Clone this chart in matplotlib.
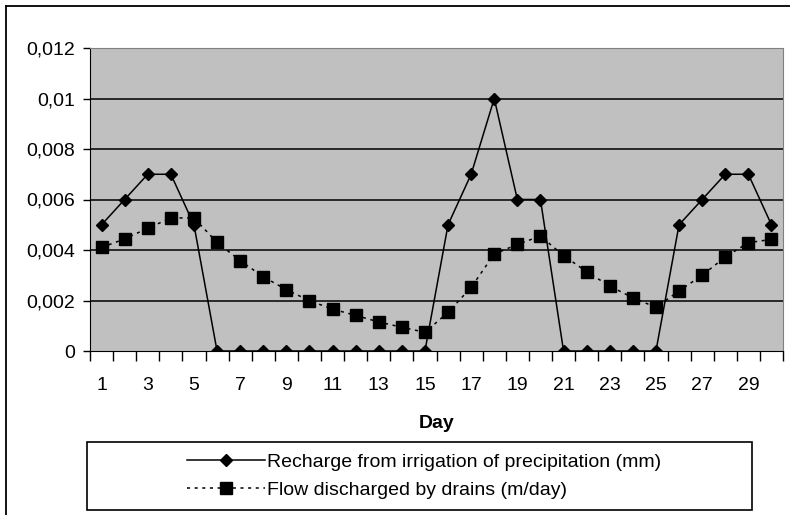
import matplotlib.pyplot as plt
from matplotlib.lines import Line2D
from matplotlib.patches import Rectangle
import numpy as np

plt.rcParams['font.family'] = ['Liberation Sans', 'DejaVu Sans']

days = list(range(1, 31))
recharge = [0.005, 0.006, 0.007, 0.007, 0.005, 0, 0, 0, 0, 0,
            0, 0, 0, 0, 0, 0.005, 0.007, 0.010, 0.006, 0.006,
            0, 0, 0, 0, 0, 0.005, 0.006, 0.007, 0.007, 0.005]
flow = [0.0041, 0.00444, 0.00486, 0.00527, 0.00527, 0.0043, 0.00358, 0.00294, 0.00243, 0.00199,
        0.00166, 0.00141, 0.00115, 0.00094, 0.00074, 0.00153, 0.00252, 0.00384, 0.00422, 0.00455,
        0.00378, 0.00314, 0.00257, 0.00211, 0.00173, 0.00238, 0.003, 0.00372, 0.00429, 0.00442]
yticks = [0, 0.002, 0.004, 0.006, 0.008, 0.01, 0.012]
ytick_labels = ['0', '0,002', '0,004', '0,006', '0,008', '0,01', '0,012']
label_recharge = 'Recharge from irrigation of precipitation (mm)'
label_flow = 'Flow discharged by drains (m/day)'

W, H = 790, 515
fs = 14
fig = plt.figure(figsize=(W / 100, H / 100), dpi=100)
ax = fig.add_axes([90 / W, (H - 351) / H, 693 / W, 303 / H])
ax.set_facecolor('#c0c0c0')

# outer chart border
fig.add_artist(Line2D([6 / W, 6 / W], [0, 1 - 6 / H], color='black', lw=1.3))
fig.add_artist(Line2D([6 / W, 1], [1 - 6 / H, 1 - 6 / H], color='black', lw=1.3))

for y in yticks[1:]:
    ax.axhline(y, color='black', lw=1.1, zorder=1)

l1, = ax.plot(days, recharge, color='black', lw=1.1, marker='D', markersize=6.5,
              label=label_recharge, zorder=3)
l2, = ax.plot(days, flow, color='black', lw=1.1, linestyle=(0, (2, 3)), marker='s',
              markersize=8, label=label_flow, zorder=3)

ax.set_xlim(0.5, 30.5)
ax.set_ylim(0, 0.012)
ax.set_xticks(days[::2])
ax.set_xticklabels([str(d) for d in days[::2]], fontsize=fs)
ax.set_xticks(np.arange(0.5, 31, 1), minor=True)
ax.tick_params(axis='x', which='major', length=0, pad=18.5)
ax.tick_params(axis='x', which='minor', length=7, width=1, direction='out')
ax.set_yticks(yticks)
ax.set_yticklabels(ytick_labels, fontsize=fs)
ax.tick_params(axis='y', length=5, width=1, direction='out', pad=6)

ax.spines['left'].set_color('black')
ax.spines['bottom'].set_color('black')
ax.spines['top'].set_color('#808080')
ax.spines['right'].set_color('#808080')

ax.set_xlabel('Day', fontsize=fs, fontweight='bold', labelpad=15)

# legend box
fig.add_artist(Rectangle((87 / W, (H - 510) / H), 665 / W, 68 / H, transform=fig.transFigure,
                         facecolor='white', edgecolor='black', lw=1.2))
fig.legend(handles=[l1, l2], loc='center', bbox_to_anchor=(424 / W, (H - 476) / H),
           frameon=False, fontsize=fs, handlelength=4, handletextpad=0.1, labelspacing=0.55)

fig.savefig('out.png', dpi=100)
